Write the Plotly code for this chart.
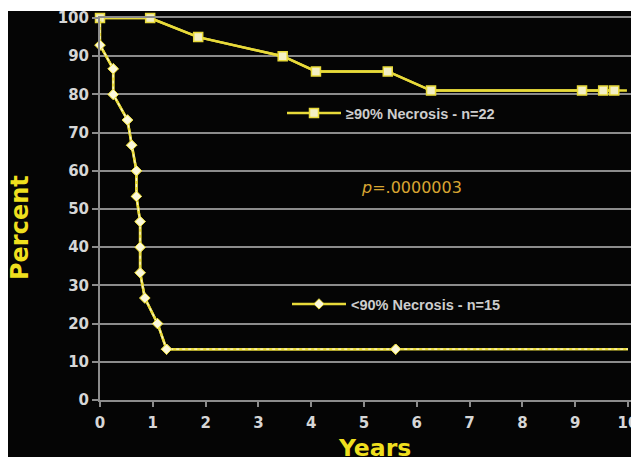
import plotly.graph_objects as go

# ---- data ----
hi_years = [0, 0.95, 1.86, 3.46, 4.09, 5.45, 6.27, 9.13, 9.53, 9.74]
hi_pct = [100, 100, 95, 90, 86, 86, 81, 81, 81, 81]
hi_end = 9.98
hi_label = "≥90% Necrosis - n=22"

lo_years = [0, 0.25, 0.25, 0.52, 0.6, 0.69, 0.69, 0.76, 0.76, 0.76, 0.85, 1.09, 1.26, 5.6]
lo_pct = [92.9, 86.7, 80, 73.3, 66.7, 60, 53.3, 46.7, 40, 33.3, 26.7, 20, 13.3, 13.3]
lo_start = 100
lo_end = 10.0
lo_label = "<90% Necrosis - n=15"

p_text = "<i>p</i>=.0000003"
x_ticks = list(range(0, 11))
y_ticks = list(range(0, 101, 10))

YELLOW = "#e8da3a"
TITLE_YELLOW = "#efdf1e"
GRID = "#8c8c8c"
TICK = "#d6d6d6"
BG = "#050505"

fig = go.Figure()

# >=90% necrosis: solid line + square markers
hx = hi_years + [hi_end]
hy = hi_pct + [hi_pct[-1]]
fig.add_trace(go.Scatter(
    x=hx, y=hy, mode="lines", line=dict(color=YELLOW, width=2.5),
    showlegend=False, hoverinfo="skip", cliponaxis=False))
fig.add_trace(go.Scatter(
    x=hi_years, y=hi_pct, mode="lines+markers", name=hi_label,
    line=dict(color=YELLOW, width=2.5),
    marker=dict(symbol="square", size=9, color="#f3efc4", line=dict(color=YELLOW, width=1.5)),
    cliponaxis=False, legend="legend"))

# <90% necrosis: yellow line with white dotted overlay + diamonds
lx = [0] + lo_years + [lo_end]
ly = [lo_start] + lo_pct + [lo_pct[-1]]
lo_marker = dict(symbol="diamond", size=8, color="#fbf8dc", line=dict(color=YELLOW, width=1))
fig.add_trace(go.Scatter(
    x=lo_years, y=lo_pct, mode="lines+markers", name=lo_label,
    line=dict(color=YELLOW, width=2.5),
    marker=lo_marker, cliponaxis=False, legend="legend2"))
fig.add_trace(go.Scatter(
    x=lx, y=ly, mode="lines", line=dict(color=YELLOW, width=2.5),
    showlegend=False, hoverinfo="skip", cliponaxis=False))
fig.add_trace(go.Scatter(
    x=lx, y=ly, mode="lines", line=dict(color="#fbf6d0", width=1.2, dash="dot"),
    showlegend=False, hoverinfo="skip", cliponaxis=False))
fig.add_trace(go.Scatter(
    x=lo_years, y=lo_pct, mode="markers", marker=lo_marker,
    showlegend=False, hoverinfo="skip", cliponaxis=False))

# page has an 8px body margin: figure starts at page (8, 8)
OFF = 8
W, H = 631, 449
L, R, T, B = 92, 7, 10, 57
pw, ph = W - L - R, H - T - B

def px_x(px):
    return (px - OFF - L) / pw

def px_y(py):
    return (H - B - (py - OFF)) / ph

legend_common = dict(
    bgcolor="rgba(0,0,0,0)", borderwidth=0,
    font=dict(family="Liberation Sans", size=14.5, color="#cdcdcd", weight="bold"),
    itemwidth=54, xanchor="left", yanchor="middle", tracegroupgap=0,
)

fig.update_layout(
    width=W, height=H,
    margin=dict(l=L, r=R, t=T, b=B, pad=0, autoexpand=False),
    paper_bgcolor=BG, plot_bgcolor=BG,
    legend=dict(x=px_x(282), y=px_y(113), **legend_common),
    legend2=dict(x=px_x(287), y=px_y(304), **legend_common),
    xaxis=dict(
        range=[0, 10.076], tickvals=x_ticks, ticktext=[str(v) for v in x_ticks],
        showgrid=False, zeroline=False, showline=True, mirror=True, automargin=False,
        linecolor=GRID, linewidth=2, ticks="outside", ticklen=5, tickcolor=GRID, tickwidth=2,
        ticklabelstandoff=3,
        tickfont=dict(family="DejaVu Sans", size=15, color=TICK, weight="bold"),
    ),
    yaxis=dict(
        range=[0, 100], tickvals=y_ticks, ticktext=[str(v) for v in y_ticks],
        showgrid=True, gridcolor=GRID, gridwidth=2, zeroline=False, automargin=False,
        showline=True, mirror=True, linecolor=GRID, linewidth=2,
        ticks="outside", ticklen=6, tickcolor=GRID, tickwidth=2,
        tickfont=dict(family="DejaVu Sans", size=15, color=TICK, weight="bold"),
    ),
    shapes=[
        dict(type="rect", xref="paper", yref="paper", x0=px_x(0), x1=px_x(700),
             y0=px_y(11), y1=px_y(0), fillcolor="white", line=dict(width=0), layer="below"),
    ],
    annotations=[
        dict(text=p_text, xref="paper", yref="paper", x=px_x(411), y=px_y(187),
             xanchor="center", yanchor="middle",
             showarrow=False, font=dict(family="DejaVu Sans", size=16, color="#d9a532")),
        dict(text="Percent", xref="paper", yref="paper", x=px_x(20), y=px_y(228),
             xanchor="center", yanchor="middle", textangle=-90, showarrow=False,
             font=dict(family="DejaVu Sans", size=24, color=TITLE_YELLOW, weight="bold")),
        dict(text="Years", xref="paper", yref="paper", x=px_x(374), y=px_y(432),
             xanchor="center", yanchor="top", showarrow=False,
             font=dict(family="DejaVu Sans", size=23.5, color=TITLE_YELLOW, weight="bold")),
    ],
)

fig.write_html("out.html")
